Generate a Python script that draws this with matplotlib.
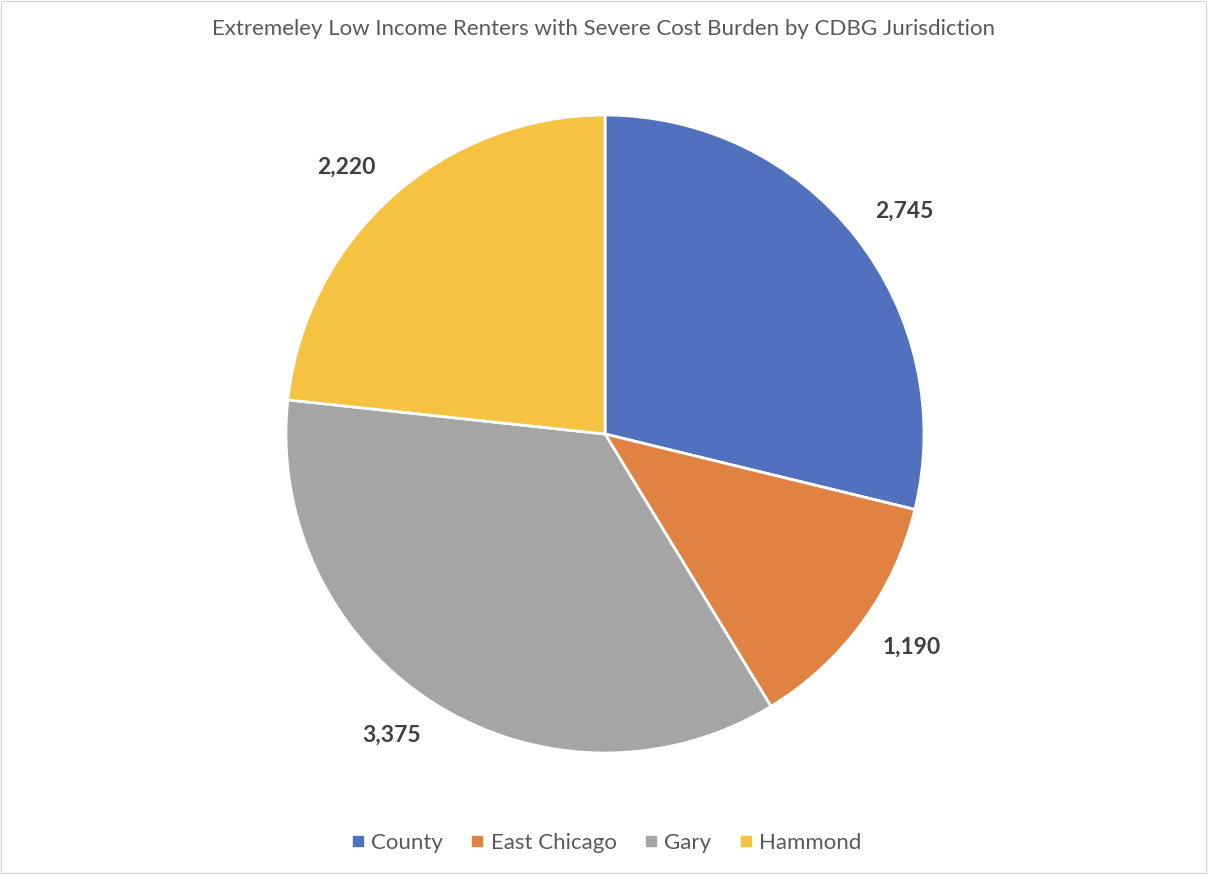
import numpy as np
import matplotlib.pyplot as plt
from matplotlib.patches import Rectangle
from matplotlib.lines import Line2D

plt.rcParams['font.family'] = ['Lato', 'DejaVu Sans']

jurisdictions = ['County', 'East Chicago', 'Gary', 'Hammond']
renters = [2745, 1190, 3375, 2220]
colors = ['#5171BE', '#E08342', '#A5A5A5', '#F5C242']

fig = plt.figure(figsize=(12.08, 8.75), dpi=100)

# pie axes sized so the radius-1 circle fills it exactly
ax = fig.add_axes([(605 - 319) / 1208, 1 - (434 + 319) / 875, 638 / 1208, 638 / 875])
wedges, texts = ax.pie(
    renters,
    labels=[f'{v:,}' for v in renters],
    colors=colors,
    startangle=90,
    counterclock=False,
    wedgeprops=dict(edgecolor='white', linewidth=2),
    textprops=dict(fontsize=16.5, fontweight='bold', color='#404040'),
)

# outside-end labels: corner of the text box sits just off the rim
for w, t in zip(wedges, texts):
    ang = np.deg2rad((w.theta1 + w.theta2) / 2)
    c, s = np.cos(ang), np.sin(ang)
    t.set_position((1.078 * c, 1.078 * s))
    t.set_horizontalalignment('left' if c > 0 else 'right')
    t.set_verticalalignment('bottom' if s > 0 else 'top')

ax.set_xlim(-1, 1)
ax.set_ylim(-1, 1)
ax.set_aspect('equal')

fig.text(0.5, 1 - 29 / 875, 'Extremeley Low Income Renters with Severe Cost Burden by CDBG Jurisdiction',
         ha='center', va='center', fontsize=16, color='#595959')

handles = [Line2D([], [], marker='s', linestyle='none', markersize=7.5,
                  markerfacecolor=c, markeredgecolor=c) for c in colors]
fig.legend(handles, jurisdictions, loc='center', bbox_to_anchor=(0.5, 1 - 843 / 875),
           ncol=4, frameon=False, fontsize=16, labelcolor='#595959',
           handletextpad=0.1, columnspacing=1.05, handlelength=1.0)

# thin light frame around the chart area
fig.patches.append(Rectangle((0.001, 0.002), 0.997, 0.997, transform=fig.transFigure,
                             fill=False, edgecolor='#D9D9D9', linewidth=1))

fig.savefig('out.png', dpi=100, facecolor='white')
